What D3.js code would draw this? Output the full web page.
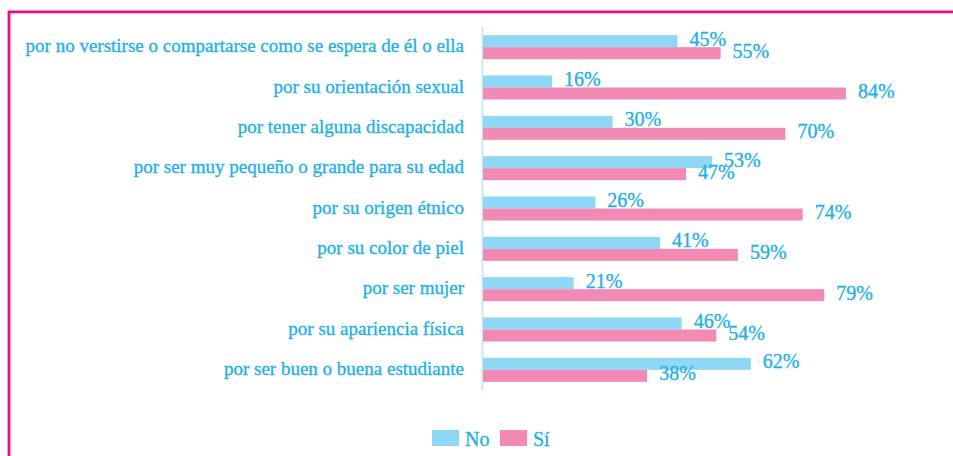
<!DOCTYPE html>
<html><head><meta charset="utf-8">
<script src="https://cdn.jsdelivr.net/npm/d3@7"></script>
<style>html,body{margin:0;padding:0;background:#fff;overflow:hidden}</style>
</head><body>
<svg id="c" width="953" height="456"></svg>
<script>
const categories = [
  "por no verstirse o compartarse como se espera de él o ella",
  "por su orientación sexual",
  "por tener alguna discapacidad",
  "por ser muy pequeño o grande para su edad",
  "por su origen étnico",
  "por su color de piel",
  "por ser mujer",
  "por su apariencia física",
  "por ser buen o buena estudiante"
];
const noValues = [45, 16, 30, 53, 26, 41, 21, 46, 62];
const siValues = [55, 84, 70, 47, 74, 59, 79, 54, 38];
const seriesNames = ["No", "Sí"];

const colNo = "#8fd8f5", colSi = "#f18ab4", textCol = "#1fb0ea", border = "#ec0a8c";
const svg = d3.select("#c");

// frame
svg.append("path").attr("d", "M9,456 V11.8 H953").attr("fill", "none")
  .attr("stroke", border).attr("stroke-width", 2.8);

const x = d3.scaleLinear().domain([0, 100]).range([483, 915]);
const y = d3.scaleBand().domain(categories).range([27, 390]);
const bh = 12;

// axis line
svg.append("line").attr("x1", 482.5).attr("x2", 482.5).attr("y1", 27).attr("y2", 390)
  .attr("stroke", "#c9e9f6").attr("stroke-width", 2);

const rows = categories.map((c, i) => ({c, no: noValues[i], si: siValues[i], cy: y(c) + y.bandwidth() / 2}));

svg.selectAll(".bno").data(rows).join("rect")
  .attr("x", x(0)).attr("y", d => d.cy - bh).attr("width", d => x(d.no) - x(0)).attr("height", bh)
  .attr("fill", colNo);
svg.selectAll(".bsi").data(rows).join("rect")
  .attr("x", x(0)).attr("y", d => d.cy).attr("width", d => x(d.si) - x(0)).attr("height", bh)
  .attr("fill", colSi);

const vf = "'Liberation Serif', 'DejaVu Serif', serif";
const common = s => s.attr("font-family", vf).attr("fill", textCol)
  .attr("stroke", textCol).attr("stroke-width", 0.35);
svg.selectAll(".lno").data(rows).join("text")
  .attr("x", d => x(d.no) + 12).attr("y", d => d.cy - 1.5)
  .call(common).attr("font-size", 20)
  .text(d => d.no + "%");
svg.selectAll(".lsi").data(rows).join("text")
  .attr("x", d => x(d.si) + 12).attr("y", d => d.cy + 10.5)
  .call(common).attr("font-size", 20)
  .text(d => d.si + "%");

// category labels
svg.selectAll(".cat").data(rows).join("text")
  .attr("x", 464).attr("y", d => d.cy + 5).attr("text-anchor", "end")
  .call(common).attr("font-size", 19)
  .text(d => d.c);

// legend
const leg = [{n: seriesNames[0], c: colNo, x: 432}, {n: seriesNames[1], c: colSi, x: 500}];
const lg = svg.selectAll(".leg").data(leg).join("g");
lg.append("rect").attr("x", d => d.x).attr("y", 430).attr("width", 27).attr("height", 16).attr("fill", d => d.c);
lg.append("text").attr("x", d => d.x + 33).attr("y", 445.5)
  .call(common).attr("font-size", 20).text(d => d.n);
</script>
</body></html>
